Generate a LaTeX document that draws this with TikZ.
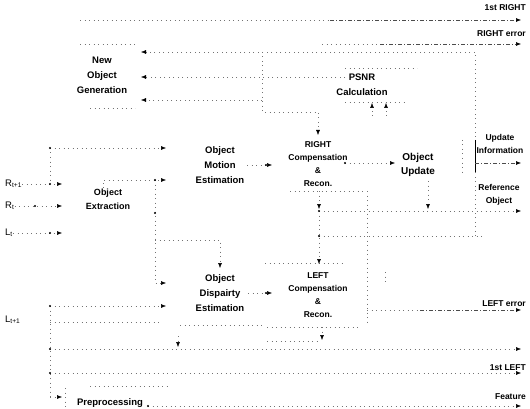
\documentclass[tikz,border=0pt]{standalone}
\usepackage{fontspec}
\setmainfont{Liberation Sans}
\usetikzlibrary{arrows.meta}
\begin{document}
\begin{tikzpicture}[x=1pt,y=-1pt,
  lbl/.style={font=\bfseries\fontsize{9.5}{15}\selectfont, align=center, inner sep=0pt},
  lbs/.style={font=\bfseries\fontsize{8.5}{13}\selectfont, align=center, inner sep=0pt},
  io/.style={font=\fontsize{9.5}{11}\selectfont, inner sep=0pt},
  ln/.style={draw=black!55, line width=0.5pt, dash pattern=on 0.9pt off 3.6pt},
  lnm/.style={draw=black!70, line width=0.55pt, dash pattern=on 4pt off 2pt on 1pt off 2pt},
  ar/.style={-{Latex[length=5pt,width=4pt,color=black]}},
  jd/.style={circle, fill=black, inner sep=0pt, minimum size=2.4pt}]
\useasboundingbox (0,0) rectangle (530,409);

% ---------------- text nodes
\node[lbs, anchor=east] (l1r) at (526,8) {1st RIGHT};
\node[lbs, anchor=east] (lre) at (526,34) {RIGHT error};
\node[lbl] (nog) at (102,75) {New\\Object\\Generation};
\node[lbl] (psnr) at (362,85) {PSNR\\Calculation};
\node[lbl] (ome) at (220,165) {Object\\Motion\\Estimation};
\node[lbs] (rcr) at (318,164.5) {RIGHT\\Compensation\\\&\\Recon.};
\node[lbl, font=\bfseries\fontsize{10}{14}\selectfont] (ou) at (418,165) {Object\\Update};
\node[lbs] (ui) at (500,143.5) {Update\\Information};
\node[lbs] (ro) at (499,195) {Reference\\Object};
\node[lbl, font=\bfseries\fontsize{9}{14}\selectfont] (oe) at (108,199) {Object\\Extraction};
\node[lbl] (ode) at (220,293.5) {Object\\Dispairty\\Estimation};
\node[lbs] (lcr) at (318,295.5) {LEFT\\Compensation\\\&\\Recon.};
\node[lbs, anchor=east] (lle) at (526,304) {LEFT error};
\node[lbs, anchor=east] (l1l) at (526,368) {1st LEFT};
\node[lbs, anchor=east] (lft) at (526,397) {Feature};
\node[lbl] (pre) at (110,403) {Preprocessing};
\node[io, anchor=west] (rt1) at (5,184) {R\textsubscript{t+1}};
\node[io, anchor=west] (rt) at (5,206) {R\textsubscript{t}};
\node[io, anchor=west] (lt) at (5,233) {L\textsubscript{t}};
\node[io, anchor=west] (lt1) at (5,320) {L\textsubscript{t+1}};

% ---------------- coordinates
\coordinate (o1s) at (80,20);   \coordinate (o1m) at (330,20);  \coordinate (o1) at (521,20);
\coordinate (o2s) at (322,44);  \coordinate (o2m) at (380,44);  \coordinate (o2) at (521,44);
\coordinate (ng1) at (80,44);   \coordinate (ng2) at (135,44);
\coordinate (ng3) at (90,108);  \coordinate (ng4) at (135,108);
\coordinate (nga) at (141,52);  \coordinate (ngb) at (141,77);  \coordinate (ngc) at (141,100);
\coordinate (c52) at (475,52);  \coordinate (c228) at (475,236);
\coordinate (ui1) at (475,140); \coordinate (ui2) at (475,172); \coordinate (ui3) at (475,163);
\coordinate (ouI) at (521,163);
\coordinate (ps1) at (345,68);  \coordinate (ps2) at (417,68);
\coordinate (ps3) at (345,102); \coordinate (ps4) at (405,102);
\coordinate (ps5) at (345,77);
\coordinate (pa1) at (372,116); \coordinate (pa1t) at (372,103);
\coordinate (pa2) at (386,116); \coordinate (pa2t) at (386,103);
\coordinate (v1) at (262,52);   \coordinate (v2) at (262,112);  \coordinate (v3) at (262,100);
\coordinate (r1) at (318,112);  \coordinate (rct) at (318,135);
\coordinate (j1) at (50,148);   \coordinate (ome1) at (166,148);
\coordinate (j2) at (50,184);   \coordinate (oe1) at (62,184);
\coordinate (jr) at (35,206);   \coordinate (oe2) at (62,206);
\coordinate (jl) at (50,233);   \coordinate (oe3) at (62,233);
\coordinate (oet) at (103,188); \coordinate (b1) at (103,180);  \coordinate (ome2) at (166,180);
\coordinate (b2) at (155,180);  \coordinate (b3) at (155,283);  \coordinate (ode1) at (166,283);
\coordinate (bm) at (155,213);
\coordinate (b4) at (155,240);  \coordinate (b5) at (220,240);  \coordinate (odet) at (220,268);
\coordinate (j3) at (50,306);   \coordinate (ode2) at (166,306);
\coordinate (j7) at (50,322);   \coordinate (l2) at (160,322);
\coordinate (j4) at (50,349);   \coordinate (oU) at (521,349);
\coordinate (j8) at (50,373);   \coordinate (o1L) at (521,373);
\coordinate (j6) at (50,397);   \coordinate (pp1) at (62,397);
\coordinate (pe1) at (65,388);  \coordinate (pe2) at (65,409);
\coordinate (pt1) at (90,386);  \coordinate (pt2) at (167,386);
\coordinate (pp2) at (148,406); \coordinate (oF) at (521,406);
\coordinate (ome3) at (247,165);\coordinate (jm) at (266,165); \coordinate (rcl) at (272,165);
\coordinate (ode3) at (248,293);\coordinate (jd2) at (266,293); \coordinate (lcl) at (272,293);
\coordinate (rc2) at (345,163); \coordinate (ou1) at (395,163);
\coordinate (rb1) at (290,191); \coordinate (rb2) at (363,191);
\coordinate (rcb) at (319,191); \coordinate (rcb2) at (319,209);
\coordinate (j9) at (319,211);  \coordinate (ref) at (521,211);
\coordinate (oub) at (428,181); \coordinate (oub2) at (428,209);
\coordinate (oue1) at (462,140);\coordinate (oue2) at (462,175);
\coordinate (k1) at (367,191);  \coordinate (k2) at (367,322);
\coordinate (j10) at (319,236); \coordinate (k3) at (482,236);
\coordinate (lct) at (319,264);
\coordinate (lt1) at (265,263); \coordinate (lt2) at (345,263);
\coordinate (lb1) at (267,327); \coordinate (lb2) at (360,327);
\coordinate (lcb) at (322,327); \coordinate (lcb2) at (322,340);
\coordinate (lb3) at (267,341); \coordinate (lb4) at (320,341);
\coordinate (le1) at (367,310); \coordinate (le2) at (420,310); \coordinate (oLe) at (521,310);
\coordinate (s1) at (385,272);  \coordinate (s2) at (385,282);
\coordinate (db1) at (180,325); \coordinate (db2) at (262,325);
\coordinate (da1) at (178,336); \coordinate (da2) at (178,347);

% ---------------- outputs on the right
\draw[ln] (o1s) -- (o1m);  \draw[lnm,ar] (o1m) -- (o1);
\draw[ln] (o2s) -- (o2m);  \draw[lnm,ar] (o2m) -- (o2);
\draw[ln,ar] (c228) -- (c52) -- (nga);
\draw[black, line width=0.5pt] (ui1) -- (ui2);
\draw[lnm,ar] (ui3) -- (ouI);
\draw[ln,ar] (j9) -- (ref);
\draw[ln] (le1) -- (le2);
\draw[lnm,ar] (le2) -- (oLe);
\draw[ln,ar] (j4) -- (oU);
\draw[ln,ar] (j8) -- (o1L);
\draw[ln,ar] (pp2) -- (oF);

% ---------------- box edges
\draw[ln] (ng1) -- (ng2);  \draw[ln] (ng3) -- (ng4);
\draw[ln] (ps1) -- (ps2);  \draw[ln] (ps3) -- (ps4);
\draw[ln] (rb1) -- (rb2);
\draw[ln] (lt1) -- (lt2);  \draw[ln] (lb1) -- (lb2);
\draw[ln] (oue1) -- (oue2);
\draw[ln] (pt1) -- (pt2);  \draw[ln] (pe1) -- (pe2);
\draw[ln] (db1) -- (db2);
\draw[ln] (s1) -- (s2);

% ---------------- upper connections
\draw[ln,ar] (ps5) -- (ngb);
\draw[ln,ar] (v3) -- (ngc);
\draw[ln,ar] (v1) -- (v2) -- (r1) -- (rct);
\draw[ln,ar] (pa1) -- (pa1t);
\draw[ln,ar] (pa2) -- (pa2t);

% ---------------- inputs
\draw[ln] (j1) -- (j2);
\draw[ln,ar] (j1) -- (ome1);
\draw[ln,ar] (rt1) -- (oe1);
\draw[ln,ar] (rt) -- (oe2);
\draw[ln,ar] (lt) -- (oe3);
\draw[ln,ar] (oet) -- (b1) -- (ome2);
\draw[ln,ar] (b2) -- (b3) -- (ode1);
\draw[ln,ar] (b4) -- (b5) -- (odet);
\draw[ln] (j3) -- (j6);
\draw[ln,ar] (j3) -- (ode2);
\draw[ln] (j7) -- (l2);
\draw[ln,ar] (j6) -- (pp1);

% ---------------- middle
\draw[ln,ar] (ome3) -- (rcl);
\draw[ln,ar] (ode3) -- (lcl);
\draw[ln,ar] (rc2) -- (ou1);
\draw[ln,ar] (rcb) -- (rcb2);
\draw[ln,ar] (oub) -- (oub2);
\draw[ln,ar] (j9) -- (lct);
\draw[ln] (k1) -- (k2);
\draw[ln] (j10) -- (k3);
\draw[ln,ar] (lcb) -- (lcb2);
\draw[ln] (lb3) -- (lb4);
\draw[ln,ar] (da1) -- (da2);

% ---------------- junction dots
\foreach \p in {j1,j2,jr,jl,b2,bm,jm,jd2,rc2,j9,j10,j3,j4,j8,pp2}
  \node[jd] at (\p) {};
\end{tikzpicture}
\end{document}
